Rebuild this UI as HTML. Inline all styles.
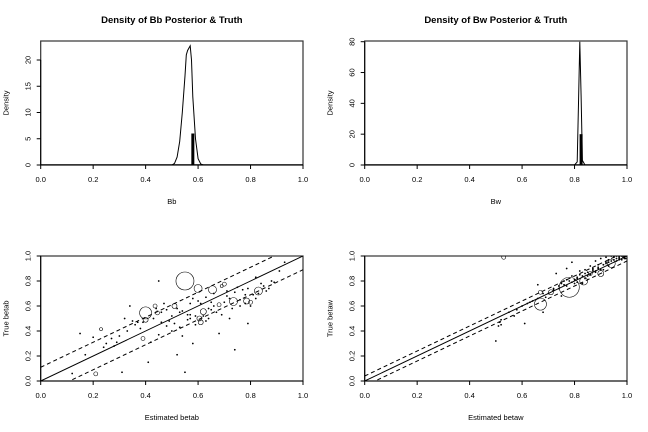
<!DOCTYPE html>
<html><head><meta charset="utf-8"><style>
body{margin:0;background:#fff}
svg{display:block;font-family:"Liberation Sans",sans-serif}
</style></head><body>
<svg id="c" width="648" height="432" viewBox="0 0 648 432"></svg>
<script>
// ---- data ----
const bbDensX=[0.50,0.51,0.52,0.53,0.54,0.55,0.555,0.56,0.57,0.575,0.58,0.59,0.60,0.61,0.62];
const bbDensY=[0,0.3,1.5,4.5,10,17,21,21.8,22.7,20,13,5,1.2,0.2,0];
const bbTruth=[0.58,6];
const bwDensX=[0.80,0.81,0.815,0.82,0.825,0.83,0.84];
const bwDensY=[0,2,40,80,45,3,0];
const bwTruth=[0.825,20];
const bbTicksY=[0,5,10,15,20];
const bwTicksY=[0,20,40,60,80];
const xTicks=[0,0.2,0.4,0.6,0.8,1.0];
const xTickLabels=["0.0","0.2","0.4","0.6","0.8","1.0"];
const sbX=[0.55,0.60,0.655,0.40,0.40,0.436,0.445,0.51,0.39,0.21,0.23,0.62,0.605,0.61,0.70,0.68,0.735,0.785,0.83,0.80,0.69,
 0.15,0.17,0.25,0.29,0.32,0.34,0.36,0.38,0.42,0.45,0.46,0.48,0.50,0.52,0.53,0.54,0.56,0.57,0.58,0.59,0.61,0.63,0.64,0.66,0.67,0.70,0.71,0.72,0.74,0.75,0.76,0.78,0.79,0.81,0.82,0.84,0.86,0.88,0.91,0.93,0.45,0.52,0.55,0.74,0.41,0.12,0.31,0.47,0.49,0.58,0.62,0.65,0.77,0.80,0.85,0.57,0.44,0.35,0.27,0.68,0.72,0.50,0.53,
 0.28,0.30,0.33,0.37,0.43,0.46,0.51,0.54,0.56,0.59,0.60,0.63,0.66,0.69,0.71,0.73,0.76,0.78,0.79,0.82,0.83,0.87,0.89,0.64,0.57,0.48,0.39,0.20,0.24,0.65];
const sbY=[0.80,0.74,0.73,0.545,0.49,0.60,0.545,0.60,0.34,0.057,0.415,0.555,0.50,0.47,0.775,0.61,0.636,0.64,0.72,0.63,0.76,
 0.38,0.21,0.30,0.31,0.50,0.60,0.45,0.42,0.31,0.80,0.47,0.44,0.52,0.58,0.43,0.36,0.53,0.50,0.30,0.45,0.62,0.67,0.58,0.70,0.55,0.63,0.72,0.66,0.71,0.75,0.60,0.69,0.46,0.69,0.83,0.78,0.72,0.80,0.88,0.95,0.37,0.21,0.07,0.25,0.15,0.06,0.07,0.62,0.48,0.66,0.52,0.57,0.73,0.60,0.76,0.53,0.58,0.48,0.34,0.38,0.50,0.40,0.55,
 0.28,0.36,0.40,0.47,0.50,0.55,0.46,0.56,0.49,0.52,0.64,0.48,0.60,0.53,0.68,0.58,0.65,0.62,0.74,0.66,0.70,0.74,0.79,0.50,0.62,0.57,0.47,0.35,0.27,0.63];
const sbR=[9,4,4,6,2.5,2,2,2.5,2,2,1.5,3,2.5,2.5,2,2,4,3,4,2,1.5];
const swX=[0.78,0.67,0.835,0.71,0.67,0.94,0.86,0.90,0.53,0.55,0.515,0.52,0.62,0.64,0.66,0.69,0.70,0.72,0.74,0.75,0.76,0.77,0.79,0.80,0.81,0.82,0.84,0.85,0.87,0.88,0.89,0.91,0.92,0.93,0.95,0.96,0.97,0.98,0.99,1.0,0.73,0.79,0.86,0.90,0.94,0.97,0.99,0.50,0.61,0.68,0.82,0.77,0.88,0.95,0.60,0.57,0.75,0.83,0.91,0.985,
 0.74,0.76,0.78,0.80,0.81,0.83,0.84,0.85,0.86,0.87,0.88,0.89,0.90,0.91,0.92,0.93,0.94,0.95,0.96,0.97,0.98,0.99,0.995,0.97,0.96,0.93,0.92,0.89,0.87,0.84,0.81,0.79,0.77,0.72,0.68,0.66,0.63,0.58,0.52,0.51];
const swY=[0.75,0.615,0.80,0.71,0.71,0.94,0.86,0.86,0.99,0.55,0.47,0.45,0.62,0.64,0.77,0.67,0.70,0.73,0.76,0.78,0.80,0.76,0.79,0.81,0.83,0.85,0.86,0.84,0.88,0.87,0.90,0.93,0.95,0.92,0.97,0.96,0.98,1.0,0.99,1.0,0.86,0.95,0.92,0.98,1.0,0.97,0.98,0.32,0.46,0.55,0.88,0.90,0.96,1.0,0.60,0.52,0.68,0.78,0.89,0.99,
 0.74,0.77,0.80,0.78,0.82,0.84,0.82,0.87,0.85,0.89,0.88,0.91,0.89,0.93,0.94,0.95,0.96,0.99,0.98,1.0,0.97,1.0,0.98,0.99,1.0,0.97,0.99,0.93,0.90,0.89,0.79,0.84,0.81,0.74,0.70,0.66,0.63,0.57,0.49,0.44];
const swR=[10,6,4,2.5,2,4,2,3,2];

const S=document.getElementById('c');const NS='http://www.w3.org/2000/svg';
function el(t,a,p){const e=document.createElementNS(NS,t);for(const k in a)e.setAttribute(k,a[k]);(p||S).appendChild(e);return e;}
function txt(s,x,y,a,p){const e=el('text',Object.assign({x:x,y:y,'text-anchor':'middle','font-size':7.5,fill:'#000'},a||{}),p);e.textContent=s;return e;}

function panel(o){
 const g=el('g',{});
 
 
 const sx=v=>o.x0+(v-0)*(o.x1-o.x0);
 const sy=v=>o.y0-(v-o.ymin)/(o.ymax-o.ymin)*(o.y0-o.y1);
 const t=txt(o.title,(o.x0+o.x1)/2,23,{'font-size':9.5,'font-weight':'bold'},g);
 
 const bx=el('rect',{x:o.x0,y:o.bt,width:o.x1-o.x0,height:o.bb-o.bt,fill:'none',stroke:'#333','stroke-width':1.2},g);
 
 const xa=el('g',{},g);
 el('line',{x1:sx(0),x2:sx(1),y1:o.bb,y2:o.bb,stroke:'#000'},xa);
 xTicks.forEach((v,i)=>{el('line',{x1:sx(v),x2:sx(v),y1:o.bb,y2:o.bb+4,stroke:'#000'},xa);txt(xTickLabels[i],sx(v),o.bb+17,{},xa);});
 const xl=txt(o.xlab,(o.x0+o.x1)/2,o.bb+39,{},g);
 const ya=el('g',{},g);
 el('line',{x1:o.x0,x2:o.x0,y1:sy(o.yt[0]),y2:sy(o.yt[o.yt.length-1]),stroke:'#000'},ya);
 o.yt.forEach((v,i)=>{el('line',{x1:o.x0,x2:o.x0-4,y1:sy(v),y2:sy(v),stroke:'#000'},ya);
  const yy=sy(v);txt(o.ytl[i],o.x0-10,yy,{transform:`rotate(-90 ${o.x0-10} ${yy})`},ya);});
 const yc=(o.bt+o.bb)/2;
 const yl=txt(o.ylab,o.x0-32,yc,{transform:`rotate(-90 ${o.x0-32} ${yc})`},g);
 const cid='clip'+o.name;const cp=el('clipPath',{id:cid},g);el('rect',{x:o.x0,y:o.bt,width:o.x1-o.x0,height:o.bb-o.bt},cp);
 const pg=el('g',{'clip-path':`url(#${cid})`},g);
 return {g,pg,sx,sy};
}
function dens(o,dx,dy,tr){
 const P=panel(o);
 const d=dx.map((x,i)=>(i?'L':'M')+P.sx(x).toFixed(1)+' '+P.sy(dy[i]).toFixed(1)).join(' ');
 const c=el('path',{d:d,fill:'none',stroke:'#000','stroke-width':1},P.pg);
 
 const b=el('line',{x1:P.sx(tr[0]),x2:P.sx(tr[0]),y1:P.sy(0),y2:P.sy(tr[1]),stroke:'#000','stroke-width':3},P.pg);
 
 const z=el('line',{x1:P.sx(0),x2:P.sx(1),y1:P.sy(0),y2:P.sy(0),stroke:'#000','stroke-width':1.5},P.pg);
 
}
function scat(o,X,Y,R,off){
 const P=panel(o);
 const ln=(a,dash,name)=>{const l=el('line',{x1:P.sx(0),y1:P.sy(a),x2:P.sx(1),y2:P.sy(1+a),stroke:'#000','stroke-dasharray':dash||''},P.pg);
  };
 ln(0,'','identity-line');ln(off,'4,3','upper-band-line');ln(-off,'4,3','lower-band-line');
 X.forEach((x,i)=>{
  const r=i<R.length?R[i]:0.6;
  const c=el('circle',{cx:P.sx(x),cy:P.sy(Y[i]),r:r,fill:i<R.length?'none':'#000',stroke:'#000','stroke-width':0.6},P.pg);
  
 });
}
dens({name:'bb-density-panel',title:'Density of Bb Posterior & Truth',x0:40.7,x1:303,y0:165,y1:60,ymin:0,ymax:20,bt:41,bb:165,yt:bbTicksY,ytl:["0","5","10","15","20"],xlab:'Bb',ylab:'Density'},bbDensX,bbDensY,bbTruth);
dens({name:'bw-density-panel',title:'Density of Bw Posterior & Truth',x0:364.7,x1:627,y0:165,y1:41.7,ymin:0,ymax:80,bt:41,bb:165,yt:bwTicksY,ytl:["0","20","40","60","80"],xlab:'Bw',ylab:'Density'},bwDensX,bwDensY,bwTruth);
const st=[0,0.2,0.4,0.6,0.8,1.0];
scat({name:'betab-scatter-panel',title:'',x0:40.7,x1:303,y0:381,y1:256,ymin:0,ymax:1,bt:256,bb:381,yt:st,ytl:xTickLabels,xlab:'Estimated betab',ylab:'True betab'},sbX,sbY,sbR,0.11);
scat({name:'betaw-scatter-panel',title:'',x0:364.7,x1:627,y0:381,y1:256,ymin:0,ymax:1,bt:256,bb:381,yt:st,ytl:xTickLabels,xlab:'Estimated betaw',ylab:'True betaw'},swX,swY,swR,0.04);
</script>
</body></html>
